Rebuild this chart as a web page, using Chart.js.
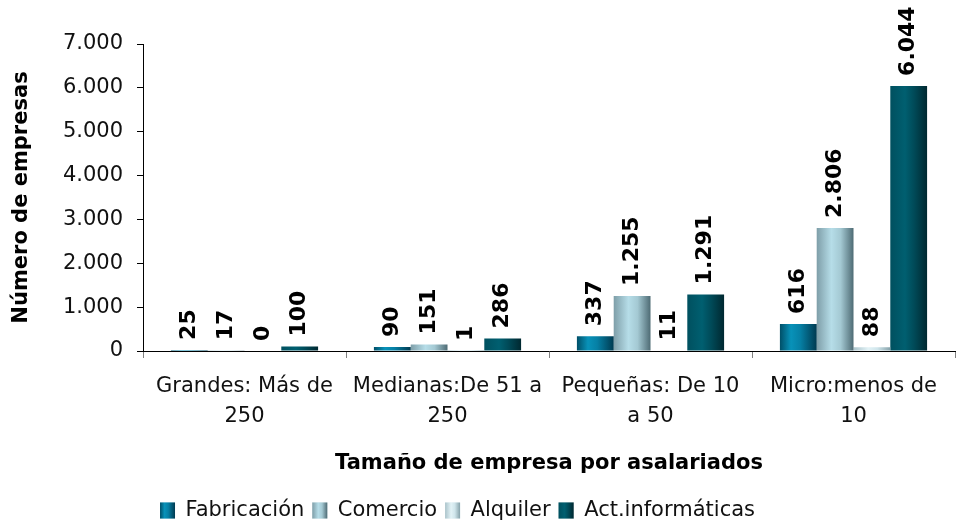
<!DOCTYPE html>
<html>
<head>
<meta charset="utf-8">
<script src="https://cdn.jsdelivr.net/npm/chart.js@4.4.1/dist/chart.umd.min.js"></script>
<style>
  html, body { margin: 0; padding: 0; background: #ffffff; }
  #wrap { width: 956px; height: 523px; position: relative; }
</style>
</head>
<body>
<div id="wrap"><canvas id="c" width="956" height="523"></canvas></div>
<script>
// ---- Data ----
const categories = [
  ['Grandes: Más de', '250'],
  ['Medianas:De 51 a', '250'],
  ['Pequeñas: De 10', 'a 50'],
  ['Micro:menos de', '10']
];
const seriesNames = ['Fabricación', 'Comercio', 'Alquiler', 'Act.informáticas'];
const fabricacion = [25, 90, 337, 616];
const comercio = [17, 151, 1255, 2806];
const alquiler = [0, 1, 11, 88];
const actInformaticas = [100, 286, 1291, 6044];
const yMax = 7000;
const yStep = 1000;
const yTitle = 'Número de empresas';
const xTitle = 'Tamaño de empresa por asalariados';

// ---- Styles ----
const solidColors = ['#0a86aa', '#9cc4cf', '#c8e2e9', '#00505f'];
const gradientStops = [
  [[0, '#004f68'], [0.3, '#0892b9'], [0.55, '#0680a5'], [1, '#003a50']],
  [[0, '#7e9ea8'], [0.4, '#b6dde8'], [0.65, '#a4c9d3'], [1, '#4e6b74']],
  [[0, '#aac3ca'], [0.4, '#e2f2f6'], [0.65, '#cfe5eb'], [1, '#86a2aa']],
  [[0, '#00505f'], [0.4, '#005f70'], [0.65, '#004a58'], [1, '#002830']]
];

function fmt(n) {
  return String(n).replace(/\B(?=(\d{3})+(?!\d))/g, '.');
}

function makeGradient(ctx, i, left, width) {
  const g = ctx.createLinearGradient(left, 0, left + width, 0);
  gradientStops[i].forEach(s => g.addColorStop(s[0], s[1]));
  return g;
}

const gradientPlugin = {
  id: 'barGradient',
  afterLayout(chart) {
    const lg = chart.legend;
    if (lg) { lg.left -= 20; lg.right -= 20; }
  },
  beforeDatasetsDraw(chart) {
    const ctx = chart.ctx;
    chart.data.datasets.forEach((ds, i) => {
      const meta = chart.getDatasetMeta(i);
      meta.data.forEach(el => {
        const p = el.getProps(['x', 'width'], true);
        const left = p.x - p.width / 2;
        el.options = Object.assign({}, el.options, { backgroundColor: makeGradient(ctx, i, left, p.width) });
      });
    });
  },
  afterDraw(chart) {
    const lg = chart.legend;
    if (!lg || !lg.legendHitBoxes) return;
    const ctx = chart.ctx;
    const bw = lg.options.labels.boxWidth, bh = lg.options.labels.boxHeight;
    lg.legendHitBoxes.forEach((hb, i) => {
      const top = hb.top + (hb.height - bh) / 2;
      ctx.save();
      ctx.fillStyle = '#ffffff';
      ctx.fillRect(hb.left, top, bw, bh);
      ctx.fillStyle = makeGradient(ctx, i, hb.left, bw);
      ctx.fillRect(hb.left, top, bw, bh);
      ctx.restore();
    });
  }
};

const labelPlugin = {
  id: 'valueLabels',
  afterDatasetsDraw(chart) {
    const ctx = chart.ctx;
    ctx.save();
    ctx.font = 'bold 22px "DejaVu Sans"';
    ctx.fillStyle = '#000000';
    ctx.textAlign = 'left';
    ctx.textBaseline = 'middle';
    chart.data.datasets.forEach((ds, i) => {
      const meta = chart.getDatasetMeta(i);
      meta.data.forEach((el, j) => {
        const p = el.getProps(['x', 'y'], true);
        ctx.save();
        ctx.translate(p.x, p.y - 10);
        ctx.rotate(-Math.PI / 2);
        ctx.fillText(fmt(ds.data[j]), 0, 0);
        ctx.restore();
      });
    });
    ctx.restore();
  }
};

const seriesData = [fabricacion, comercio, alquiler, actInformaticas];

new Chart(document.getElementById('c'), {
  type: 'bar',
  data: {
    labels: categories,
    datasets: seriesNames.map((name, i) => ({
      label: name,
      data: seriesData[i],
      backgroundColor: solidColors[i],
      borderWidth: 0,
      barPercentage: 1,
      categoryPercentage: 0.725
    }))
  },
  options: {
    responsive: false,
    animation: false,
    devicePixelRatio: 1,
    layout: { padding: { top: 44, right: 1, left: 0, bottom: -8 } },
    plugins: {
      legend: {
        position: 'bottom',
        labels: {
          font: { family: 'DejaVu Sans', size: 21 },
          color: '#111111',
          boxWidth: 15,
          boxHeight: 16,
          padding: 8
        }
      },
      tooltip: { enabled: false }
    },
    scales: {
      x: {
        grid: { display: true, drawOnChartArea: false, drawTicks: true, tickLength: 7, color: '#808080', offset: true },
        border: { display: true, color: '#000000', width: 1 },
        ticks: {
          font: { family: 'DejaVu Sans', size: 21, lineHeight: 1.4 },
          color: '#111111',
          padding: 14,
          maxRotation: 0,
          autoSkip: false
        },
        title: {
          display: true,
          text: xTitle,
          font: { family: 'DejaVu Sans', size: 21, weight: 'bold' },
          color: '#000000',
          padding: { top: 10, bottom: 16 }
        },
        afterFit(scale) { scale.height = 141; }
      },
      y: {
        min: 0,
        max: yMax,
        grid: { display: true, drawOnChartArea: false, drawTicks: true, tickLength: 6, color: '#000000' },
        border: { display: true, color: '#000000', width: 1 },
        ticks: {
          stepSize: yStep,
          font: { family: 'DejaVu Sans', size: 21 },
          color: '#111111',
          padding: 14,
          callback: v => fmt(v)
        },
        title: {
          display: true,
          text: yTitle,
          font: { family: 'DejaVu Sans', size: 21, weight: 'bold' },
          color: '#000000',
          padding: { top: 9, bottom: 8 }
        },
        afterFit(scale) { scale.width = 143; }
      }
    }
  },
  plugins: [gradientPlugin, labelPlugin]
});
</script>
</body>
</html>
